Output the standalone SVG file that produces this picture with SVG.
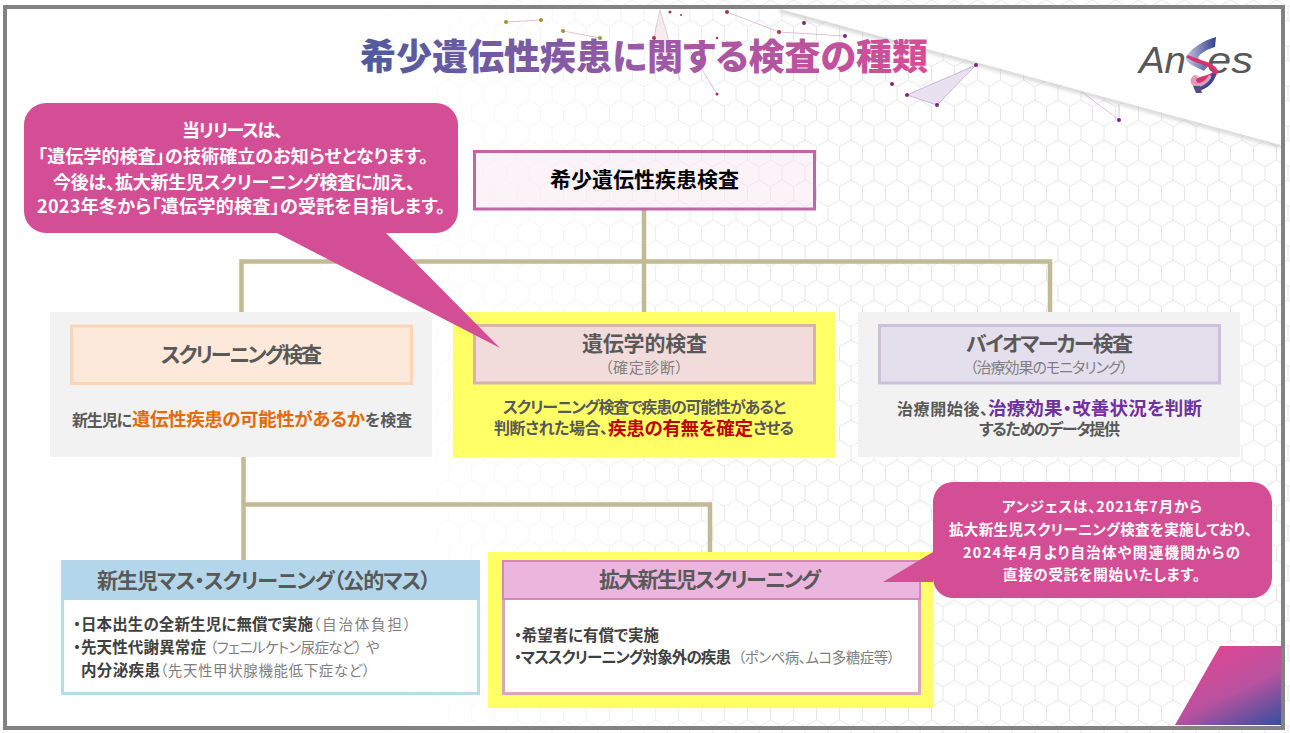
<svg xmlns="http://www.w3.org/2000/svg" width="1290" height="733" viewBox="0 0 1290 733">
<style>
text{font-family:"Noto Sans CJK JP","Noto Sans",sans-serif;font-feature-settings:"palt"}
.b{font-weight:700}
.w{fill:#fff;font-weight:700}
.h{fill:#595959;font-weight:700;font-size:21px}
.g{fill:#595959;font-weight:700;font-size:16px}
.s{fill:#7f7f7f;font-weight:400;font-size:15px}
.t{fill:#7f7f7f;font-weight:400;font-size:14.5px}
.k{fill:#404040;font-weight:700;font-size:15.5px}
.e{font-weight:700;font-size:18.5px}
.c{fill:none;stroke:#c1ba94;stroke-width:4.5}
.dp{fill:#7a2a78}.dr{fill:#a8324a}.do{fill:#a89030}
.nl{fill:none;stroke:#c9a9c0;stroke-width:.7}
.lt{font-family:"Liberation Sans",sans-serif;font-style:italic;font-size:37px;fill:#585858}
</style>
<defs>
<pattern id="hex" width="23" height="40" patternUnits="userSpaceOnUse">
<path d="M0,6.67 L11.5,0 L23,6.67 M0,6.67 V20 M23,6.67 V20 M0,20 L11.5,26.67 L23,20 M11.5,26.67 V40" fill="none" stroke="#e6e6e6" stroke-width="1"/>
</pattern>
<linearGradient id="fade" gradientUnits="userSpaceOnUse" x1="380" y1="0" x2="800" y2="0">
<stop offset="0" stop-color="#fff" stop-opacity="0"/><stop offset="1" stop-color="#fff" stop-opacity="1"/>
</linearGradient>
<mask id="fm" maskUnits="userSpaceOnUse" x="0" y="0" width="1290" height="733"><rect width="1290" height="733" fill="url(#fade)"/></mask>
<linearGradient id="tg" gradientUnits="userSpaceOnUse" x1="360" y1="0" x2="930" y2="0">
<stop offset="0" stop-color="#4f5a9d"/><stop offset=".5" stop-color="#9a5aa6"/><stop offset="1" stop-color="#d64d97"/>
</linearGradient>
<linearGradient id="cg" gradientUnits="userSpaceOnUse" x1="1222" y1="646" x2="1262" y2="730">
<stop offset="0" stop-color="#dc4793"/><stop offset=".5" stop-color="#b9529f"/><stop offset="1" stop-color="#3f4f9e"/>
</linearGradient>
<linearGradient id="lg1" x1="0" y1="0" x2="1" y2="0"><stop offset="0" stop-color="#c4c6e2"/><stop offset="1" stop-color="#34408c"/></linearGradient>
<filter id="bl" x="-10%" y="-50%" width="120%" height="200%"><feGaussianBlur stdDeviation="2"/></filter>
</defs>

<rect width="1290" height="733" fill="#fff"/>
<rect width="1290" height="733" fill="url(#hex)" mask="url(#fm)"/>
<path d="M780,10 L1281,146" stroke="#bbb" stroke-width="3" fill="none" filter="url(#bl)"/>
<polygon points="780,5 1285,5 1285,146 1281,145 780,9" fill="#fff"/>

<g id="network">
<path class="nl" d="M506,22L541,20M563,31L600,38M654,38L660,10L680,80M727,12L779,32L845,36M717,94L690,50M1082,92L1119,120M1119,120V105"/>
<polygon points="907,95 976,65 937,105" fill="#e9e0f0" stroke="#c3a8cf" stroke-width=".8"/>
<polygon points="654,38 660,10 680,80" fill="#f3dede" opacity=".6"/>
<circle class="do" cx="506" cy="22" r="2"/><circle class="do" cx="541" cy="20" r="2"/><circle class="do" cx="563" cy="31" r="2"/><circle class="do" cx="600" cy="38" r="2"/>
<circle class="dr" cx="654" cy="38" r="2"/><circle class="dr" cx="670" cy="12" r="1.5"/><circle class="dr" cx="681" cy="15" r="1"/><circle class="dr" cx="727" cy="12" r="2"/><circle class="dr" cx="779" cy="32" r="2"/><circle class="dr" cx="717" cy="94" r="1.5"/><circle class="dr" cx="717" cy="38" r="1.2"/>
<circle class="dp" cx="804" cy="23" r="2"/><circle class="dp" cx="845" cy="36" r="2"/><circle class="dp" cx="892" cy="84" r="2"/><circle class="dp" cx="907" cy="95" r="2"/><circle class="dp" cx="937" cy="105" r="2"/><circle class="dp" cx="976" cy="65" r="2"/><circle class="dp" cx="1119" cy="120" r="2"/>
</g>

<g id="corner">
<polygon points="1216,646 1281,646 1281,725 1175,725" fill="#fff" stroke="#fff" stroke-width="6"/>
<polygon points="1220,646 1281,646 1281,725 1175,725" fill="url(#cg)"/>
</g>

<rect x="5" y="7" width="1278" height="721" fill="none" stroke="#828282" stroke-width="4"/>

<text id="title" x="360" y="70" font-size="36" font-weight="900" textLength="568" fill="url(#tg)">希少遺伝性疾患に関する検査の種類</text>

<g id="logo">
<text class="lt" x="1139" y="73" textLength="47" lengthAdjust="spacingAndGlyphs">An</text>
<text class="lt" x="1207" y="73" textLength="46" lengthAdjust="spacingAndGlyphs">es</text>
<path d="M1216,37 C1204,40 1190,49 1186,57 C1185,63 1194,66 1204,71 L1208,66 C1201,62 1196,60 1199,56 C1203,51 1211,48 1215,47 Z" fill="url(#lg1)"/>
<path d="M1186,57 C1195,64 1208,64 1213,71 C1212,76 1194,76 1191,83 L1195,87 C1200,81 1217,81 1218,71 C1215,62 1198,60 1188,55 Z" fill="#d6336f"/>
<path d="M1194,75 C1188,80 1190,86 1199,88 C1205,86 1210,82 1213,77 L1209,75 C1206,80 1202,83 1198,83 C1195,81 1196,78 1199,76 Z" fill="#e29ab8"/>
<path d="M1212,73 C1212,80 1206,85 1197,88 L1199,91 C1208,88 1215,82 1216,74 Z" fill="#3a4a90"/>
<path d="M1193,86 L1196,93 L1202,93 L1200,86 Z" fill="#5a4a80"/>
</g>

<g id="connectors">
<path class="c" d="M241.500,312V261.500H1050V312"/>
<path class="c" d="M644,209V312"/>
<path class="c" d="M243.500,457V560"/>
<path class="c" d="M243.500,504.500H710V561"/>
</g>

<g id="panel-screening">
<rect x="50" y="312" width="382" height="145" fill="#f2f2f2"/>
<rect x="71.500" y="326" width="340" height="57.500" fill="#fde9d9" stroke="#fbd5b5" stroke-width="3"/>
<text class="h" x="161" y="362" textLength="161">スクリーニング検査</text>
<text class="g" x="72" y="426" textLength="60">新生児に</text>
<text class="e" x="132" y="426" fill="#e36c0a" textLength="233">遺伝性疾患の可能性があるか</text>
<text class="g" x="365" y="426" textLength="47">を検査</text>
</g>

<g id="panel-genetic">
<rect x="453" y="312" width="382" height="145" fill="#ffff66"/>
<rect x="474.500" y="325.500" width="340" height="57.500" fill="#f2dcdb" stroke="#d9b3a9" stroke-width="3"/>
<text class="h" x="582" y="351" textLength="125">遺伝学的検査</text>
<text class="s" x="605" y="373" textLength="78">（確定診断）</text>
<text class="g" x="503" y="413" textLength="283">スクリーニング検査で疾患の可能性があると</text>
<text class="g" x="494" y="434" textLength="114">判断された場合、</text>
<text class="e" x="608" y="435" fill="#c00000" textLength="145">疾患の有無を確定</text>
<text class="g" x="753" y="434" textLength="41">させる</text>
</g>

<g id="panel-biomarker">
<rect x="858" y="312" width="382" height="145" fill="#f2f2f2"/>
<rect x="879.500" y="325.500" width="340" height="57.500" fill="#e4dfec" stroke="#ccc1da" stroke-width="3"/>
<text class="h" x="966" y="351" textLength="167">バイオマーカー検査</text>
<text class="s" x="970" y="373" textLength="158">（治療効果のモニタリング）</text>
<text class="g" x="897" y="415" textLength="91">治療開始後、</text>
<text class="e" x="988" y="415" fill="#7030a0" textLength="214">治療効果・改善状況を判断</text>
<text class="g" x="979" y="435" textLength="141">するためのデータ提供</text>
</g>

<g id="node-root">
<rect x="474.500" y="151.500" width="340" height="57.500" fill="#f9e8f2" fill-opacity=".5" stroke="#c564a3" stroke-width="3"/>
<text class="b" x="550" y="187" font-size="21" fill="#000" textLength="189">希少遺伝性疾患検査</text>
</g>

<g id="node-mass">
<rect x="62.500" y="561.500" width="416" height="132" fill="#fff" stroke="#b7dde8" stroke-width="3"/>
<rect x="61" y="560" width="419" height="40" fill="#b3d6ea"/>
<text class="h" x="97" y="588" textLength="334">新生児マス・スクリーニング（公的マス）</text>
<text class="k" x="73" y="630" textLength="240">・日本出生の全新生児に無償で実施</text>
<text class="t" x="313" y="630" textLength="98">（自治体負担）</text>
<text class="k" x="73" y="653" textLength="133">・先天性代謝異常症</text>
<text class="t" x="210" y="653" textLength="152">（フェニルケトン尿症など）</text>
<text class="t" x="366" y="653" textLength="12">や</text>
<text class="k" x="81" y="676" textLength="79">内分泌疾患</text>
<text class="t" x="160" y="676" textLength="210">（先天性甲状腺機能低下症など）</text>
</g>

<g id="node-expanded">
<rect x="488" y="552" width="445" height="156" fill="#ffff66"/>
<rect x="503.500" y="561.500" width="416" height="132" fill="#fff" stroke="#dda5b8" stroke-width="3"/>
<rect x="503" y="561" width="417" height="38" fill="#ebb5dd" stroke="#d587bb" stroke-width="2"/>
<text class="h" x="599" y="587" textLength="222">拡大新生児スクリーニング</text>
<text class="k" x="514" y="641" textLength="145">・希望者に有償で実施</text>
<text class="k" x="514" y="663" textLength="217">・マススクリーニング対象外の疾患</text>
<text class="t" x="738" y="663" textLength="157">（ポンペ病、ムコ多糖症等）</text>
</g>

<g id="callout-1">
<path d="M46,103H436A22,22 0 0 1 458,125V211A22,22 0 0 1 436,233H386L500,348L277,233H46A22,22 0 0 1 24,211V125A22,22 0 0 1 46,103Z" fill="#d44e96"/>
<text class="w" x="182" y="137" font-size="18" textLength="101">当リリースは、</text>
<text class="w" x="38" y="163" font-size="18" textLength="390">「遺伝学的検査」の技術確立のお知らせとなります。</text>
<text class="w" x="53" y="189" font-size="18" textLength="362">今後は、拡大新生児スクリーニング検査に加え、</text>
<text class="w" x="37" y="213" font-size="18" textLength="408">2023年冬から「遺伝学的検査」の受託を目指します。</text>
</g>

<g id="callout-2">
<path d="M953,482H1252A20,20 0 0 1 1272,502V578A20,20 0 0 1 1252,598H953A20,20 0 0 1 933,578V582H883L933,552V502A20,20 0 0 1 953,482Z" fill="#d44e96"/>
<text class="w" x="1002" y="512" font-size="14.500" textLength="200">アンジェスは、2021年7月から</text>
<text class="w" x="949" y="535" font-size="14.500" textLength="303">拡大新生児スクリーニング検査を実施しており、</text>
<text class="w" x="963" y="558" font-size="14.500" textLength="277">2024年4月より自治体や関連機関からの</text>
<text class="w" x="1003" y="580" font-size="14.500" textLength="197">直接の受託を開始いたします。</text>
</g>
</svg>
